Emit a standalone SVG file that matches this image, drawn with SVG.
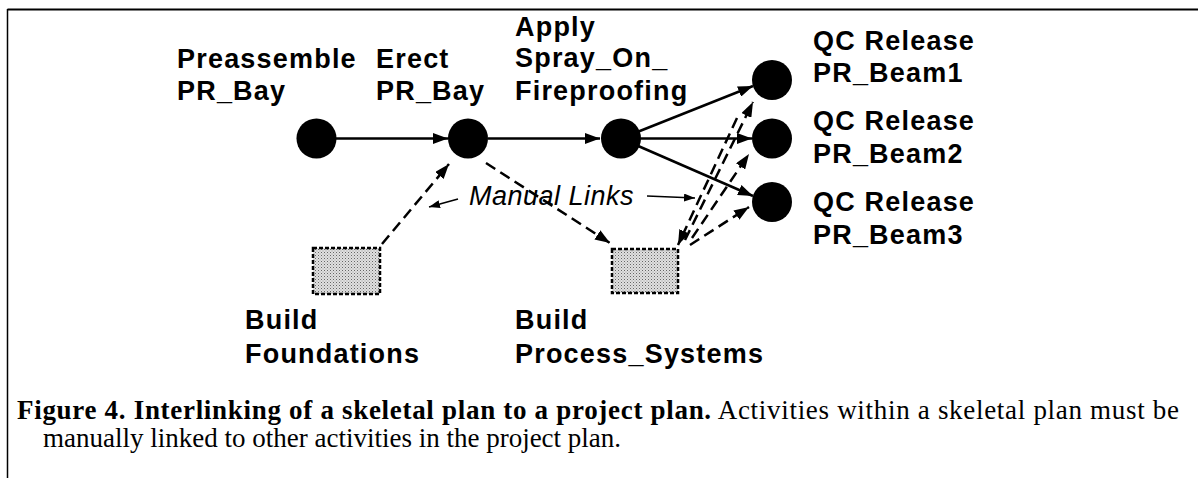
<svg xmlns="http://www.w3.org/2000/svg" width="1198" height="478" viewBox="0 0 1198 478">
<style>
.lbl{font-family:"Liberation Sans",Arial,Helvetica,sans-serif;font-weight:bold;font-size:27px;letter-spacing:1.2px;fill:#000}
.ml{font-family:"Liberation Sans",Arial,Helvetica,sans-serif;font-style:italic;font-size:27px;letter-spacing:0.5px;fill:#000}
.cap{font-family:"Liberation Serif","Times New Roman",serif;font-size:27px;fill:#000}
.node{fill:#000}
.box{fill:url(#stip);stroke:#000;stroke-width:2.5;stroke-dasharray:4 2}
.solid{stroke:#000;stroke-width:2.5;fill:none;marker-end:url(#ah)}
.dash{stroke:#000;stroke-width:2.5;fill:none;stroke-dasharray:11 6;marker-end:url(#ah)}
.thin{stroke:#000;stroke-width:1.5;fill:none;marker-end:url(#ahs)}
</style>
<defs>
<marker id="ah" markerUnits="userSpaceOnUse" markerWidth="15" markerHeight="11" refX="15" refY="5.5" orient="auto">
<path d="M0,0 L15,5.5 L0,11 z" fill="#000"/>
</marker>
<marker id="ahs" markerUnits="userSpaceOnUse" markerWidth="11" markerHeight="8" refX="11" refY="4" orient="auto">
<path d="M0,0 L11,4 L0,8 z" fill="#000"/>
</marker>
<pattern id="stip" width="3" height="3" patternUnits="userSpaceOnUse">
<rect width="3" height="3" fill="#e0e0e0"/>
<rect width="1" height="1" fill="#666"/>
<rect x="1.5" y="1.5" width="1" height="1" fill="#999"/>
</pattern>
</defs>
<rect width="1198" height="478" fill="#fff"/>
<g id="frame">
<line x1="7.5" y1="9.5" x2="1198" y2="9.5" stroke="#000" stroke-width="2"/>
<line x1="7.5" y1="9" x2="7.5" y2="478" stroke="#000" stroke-width="1.5"/>
</g>
<g id="connectors">
<line class="solid" x1="336" y1="138.5" x2="448" y2="138.5"/>
<line class="solid" x1="488" y1="138.5" x2="600" y2="138.5"/>
<line class="solid" x1="621" y1="138.5" x2="753" y2="86"/>
<line class="solid" x1="621" y1="138.5" x2="752" y2="138.5"/>
<line class="solid" x1="621" y1="138.5" x2="753" y2="196"/>
<line class="dash" x1="382" y1="244" x2="449" y2="164"/>
<line class="dash" x1="486" y1="163" x2="610" y2="243"/>
<line class="dash" x1="685" y1="240" x2="753" y2="102"/>
<line class="dash" x1="737" y1="118" x2="678" y2="245"/>
<line class="dash" x1="692" y1="238" x2="749" y2="154"/>
<line class="dash" x1="690" y1="245" x2="749" y2="207"/>
<line class="thin" x1="458" y1="199" x2="429" y2="207"/>
<line class="thin" x1="647" y1="196" x2="695" y2="198"/>
</g>
<g id="preassemble">
<circle class="node" cx="316.5" cy="138.5" r="20"/>
<text class="lbl" x="177" y="68">Preassemble</text>
<text class="lbl" x="177" y="100">PR_Bay</text>
</g>
<g id="erect">
<circle class="node" cx="468" cy="138.5" r="20"/>
<text class="lbl" x="376" y="68">Erect</text>
<text class="lbl" x="376" y="100">PR_Bay</text>
</g>
<g id="apply">
<circle class="node" cx="621" cy="138.5" r="20"/>
<text class="lbl" x="515" y="36">Apply</text>
<text class="lbl" x="515" y="67">Spray_On_</text>
<text class="lbl" x="515" y="100">Fireproofing</text>
</g>
<g id="qc1">
<circle class="node" cx="772" cy="80" r="20"/>
<text class="lbl" x="813" y="50">QC Release</text>
<text class="lbl" x="813" y="82">PR_Beam1</text>
</g>
<g id="qc2">
<circle class="node" cx="772" cy="138.5" r="20"/>
<text class="lbl" x="813" y="130">QC Release</text>
<text class="lbl" x="813" y="163">PR_Beam2</text>
</g>
<g id="qc3">
<circle class="node" cx="772" cy="202" r="20"/>
<text class="lbl" x="813" y="211">QC Release</text>
<text class="lbl" x="813" y="244">PR_Beam3</text>
</g>
<g id="foundations">
<rect class="box" x="313" y="248" width="67" height="46"/>
<text class="lbl" x="245" y="329">Build</text>
<text class="lbl" x="245" y="363">Foundations</text>
</g>
<g id="process_systems">
<rect class="box" x="612" y="249" width="66" height="44"/>
<text class="lbl" x="515" y="329">Build</text>
<text class="lbl" x="515" y="363">Process_Systems</text>
</g>
<g id="manual_links">
<text class="ml" x="469" y="205">Manual Links</text>
</g>
<g id="caption">
<text class="cap" x="17" y="419" textLength="1162" lengthAdjust="spacing"><tspan font-weight="bold">Figure 4. Interlinking of a skeletal plan to a project plan.</tspan> Activities within a skeletal plan must be</text>
<text class="cap" x="43" y="447">manually linked to other activities in the project plan.</text>
</g>
</svg>
